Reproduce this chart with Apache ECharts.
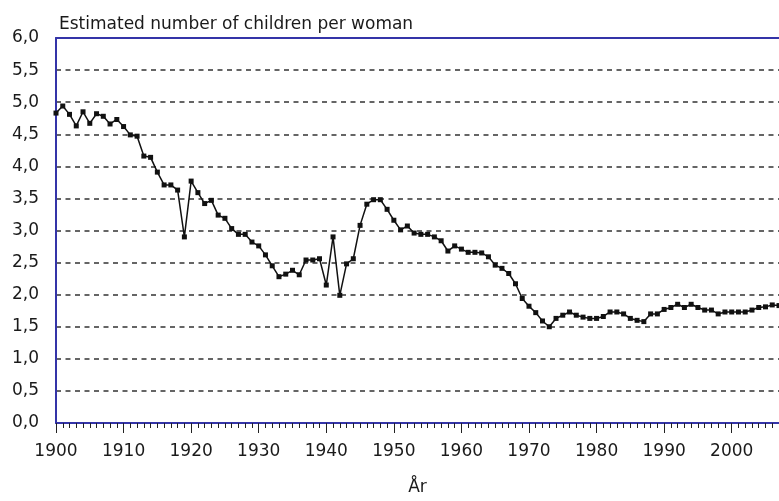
<!DOCTYPE html>
<html>
<head>
<meta charset="utf-8">
<script src="https://cdn.jsdelivr.net/npm/echarts@6/dist/echarts.min.js"></script>
<style>
  html, body { margin: 0; padding: 0; background: #fff; }
  #chart { width: 779px; height: 501px; }
</style>
</head>
<body>
<div id="chart"></div>
<script>
// years 1900..2007, one value per year
var years = [
  1900, 1901, 1902, 1903, 1904, 1905, 1906, 1907, 1908, 1909,
  1910, 1911, 1912, 1913, 1914, 1915, 1916, 1917, 1918, 1919,
  1920, 1921, 1922, 1923, 1924, 1925, 1926, 1927, 1928, 1929,
  1930, 1931, 1932, 1933, 1934, 1935, 1936, 1937, 1938, 1939,
  1940, 1941, 1942, 1943, 1944, 1945, 1946, 1947, 1948, 1949,
  1950, 1951, 1952, 1953, 1954, 1955, 1956, 1957, 1958, 1959,
  1960, 1961, 1962, 1963, 1964, 1965, 1966, 1967, 1968, 1969,
  1970, 1971, 1972, 1973, 1974, 1975, 1976, 1977, 1978, 1979,
  1980, 1981, 1982, 1983, 1984, 1985, 1986, 1987, 1988, 1989,
  1990, 1991, 1992, 1993, 1994, 1995, 1996, 1997, 1998, 1999,
  2000, 2001, 2002, 2003, 2004, 2005, 2006, 2007
]
var children = [
  4.83, 4.94, 4.81, 4.63, 4.85, 4.67, 4.82, 4.78, 4.66, 4.73,
  4.62, 4.49, 4.47, 4.16, 4.14, 3.91, 3.71, 3.71, 3.63, 2.90,
  3.77, 3.59, 3.42, 3.47, 3.24, 3.19, 3.03, 2.94, 2.94, 2.82,
  2.76, 2.62, 2.45, 2.28, 2.32, 2.38, 2.31, 2.54, 2.54, 2.56,
  2.15, 2.90, 1.99, 2.48, 2.56, 3.08, 3.41, 3.48, 3.48, 3.33,
  3.16, 3.01, 3.07, 2.96, 2.94, 2.94, 2.90, 2.84, 2.68, 2.76,
  2.71, 2.66, 2.66, 2.65, 2.59, 2.46, 2.41, 2.33, 2.17, 1.94,
  1.82, 1.72, 1.59, 1.50, 1.63, 1.68, 1.73, 1.68, 1.65, 1.63,
  1.63, 1.66, 1.73, 1.73, 1.70, 1.63, 1.60, 1.58, 1.70, 1.70,
  1.77, 1.80, 1.85, 1.80, 1.85, 1.80, 1.76, 1.76, 1.70, 1.73,
  1.73, 1.73, 1.73, 1.76, 1.80, 1.81, 1.84, 1.83
]
var titleText = 'Estimated number of children per woman'
var xName = 'År'

var font = 'DejaVu Sans'
var axisBlue = '#3434a8'
var textColor = '#1a1a1a'

var points = []
for (var i = 0; i < years.length; i++) {
  points.push([years[i], children[i]])
}

var myChart = echarts.init(document.getElementById('chart'))
myChart.setOption({
  animation: false,
  title: {
    text: titleText,
    left: 54,
    top: 11,
    textStyle: {
      fontFamily: font,
      fontSize: 17,
      fontWeight: 'normal',
      color: textColor
    }
  },
  grid: {
    left: 56,
    top: 38,
    right: 0,
    bottom: 78,
    containLabel: false
  },
  xAxis: [{
    type: 'value',
    min: 1900,
    max: 2007,
    interval: 10,
    name: xName,
    nameLocation: 'middle',
    nameGap: 56,
    nameTextStyle: { fontFamily: font, fontSize: 17, color: textColor },
    axisLine: { show: true, lineStyle: { color: axisBlue, width: 2 } },
    axisTick: { show: true, length: 10, lineStyle: { color: '#222', width: 1 } },
    minorTick: { show: true, splitNumber: 10, length: 5, lineStyle: { color: '#222', width: 1 } },
    splitLine: { show: false },
    axisLabel: {
      fontFamily: font,
      fontSize: 17,
      color: textColor,
      margin: 20,
      showMaxLabel: false,
      formatter: function (v) { return String(v) }
    }
  }, {
    // only the blue top border
    type: 'value',
    position: 'top',
    min: 1900,
    max: 2007,
    axisLine: { show: true, lineStyle: { color: axisBlue, width: 2 } },
    axisTick: { show: false },
    axisLabel: { show: false },
    splitLine: { show: false }
  }],
  yAxis: {
    type: 'value',
    min: 0,
    max: 6,
    interval: 0.5,
    axisLine: { show: true, lineStyle: { color: axisBlue, width: 2 } },
    axisTick: { show: false },
    splitLine: {
      show: true,
      lineStyle: { color: '#333', width: 1.5, type: [5, 4.5] }
    },
    axisLabel: {
      fontFamily: font,
      fontSize: 17,
      color: textColor,
      margin: 17,
      formatter: function (v) {
        return v.toFixed(1).replace('.', ',')
      }
    }
  },
  series: [{
    type: 'line',
    xAxisIndex: 0,
    data: points,
    symbol: 'rect',
    symbolSize: 5,
    showAllSymbol: true,
    clip: false,
    lineStyle: { color: '#111', width: 1.5 },
    itemStyle: { color: '#111' }
  }]
})
</script>
</body>
</html>
